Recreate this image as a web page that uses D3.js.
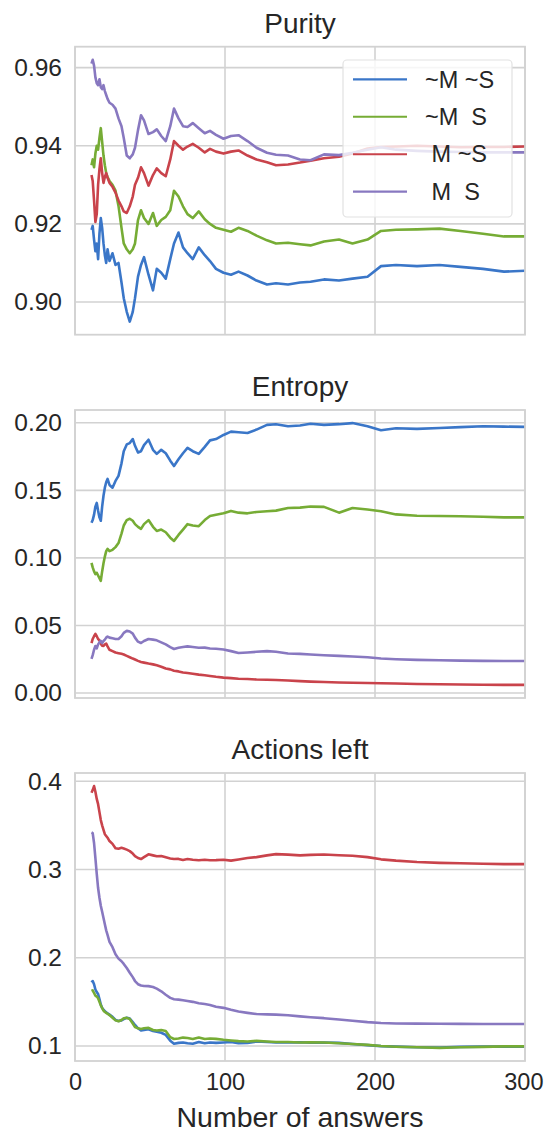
<!DOCTYPE html>
<html>
<head>
<meta charset="utf-8">
<script src="https://cdn.jsdelivr.net/npm/d3@7"></script>
<style>
  html, body { margin: 0; padding: 0; background: #fff; }
  svg { display: block; font-family: "Liberation Sans", Arial, Helvetica, sans-serif; }
  .leg text { white-space: pre; }
</style>
</head>
<body>
<svg id="chart" width="544" height="1133"></svg>
<script>
// Number of answers at which the running metrics were sampled
const answers = [11, 11.8, 12.7, 13.6, 14.5, 15.4, 16.3, 17.2, 18.1, 19, 19.9, 20.8, 21.7,
  23, 25, 27, 29, 31, 32.5, 34.5, 36.5, 38.5, 40, 42, 44, 46,
  49, 52, 54.5, 57.5, 60.5, 63.5, 66, 69, 72, 75,
  78.5, 82.5, 86.5, 90, 94,
  99, 104, 109, 115, 121, 128, 134, 142, 150, 157, 166, 176, 185, 195, 204, 214, 228, 243, 257, 272, 286, 300];

const seriesNames = ["~M ~S", "~M  S", " M ~S", " M  S"];
const seriesColors = ["#3a76c8", "#76ac35", "#c9434b", "#8878c0"];

// Purity
const purityNMNS = [0.9185, 0.9195, 0.9160, 0.9130, 0.9150, 0.9110, 0.9175, 0.9215, 0.9190, 0.9150, 0.9120, 0.9100, 0.9135,
  0.9105, 0.9125, 0.9095, 0.9100, 0.9050, 0.9010, 0.8975, 0.8950, 0.8975, 0.9010, 0.9065, 0.9095, 0.9115,
  0.9070, 0.9030, 0.9085, 0.9075, 0.9060, 0.9110, 0.9150, 0.9178, 0.9140, 0.9125,
  0.9110, 0.9140, 0.9120, 0.9105, 0.9085,
  0.9075, 0.9070, 0.9078, 0.9068, 0.9055, 0.9045, 0.9048, 0.9045, 0.9050, 0.9052, 0.9058, 0.9055, 0.9060, 0.9065, 0.9092, 0.9095, 0.9092, 0.9095, 0.9090, 0.9085, 0.9078, 0.9080];
const purityNMS = [0.9350, 0.9365, 0.9345, 0.9380, 0.9400, 0.9390, 0.9420, 0.9445, 0.9410, 0.9375, 0.9350, 0.9330, 0.9320,
  0.9310, 0.9300, 0.9285, 0.9246, 0.9190, 0.9150, 0.9135, 0.9125, 0.9135, 0.9150, 0.9210, 0.9235, 0.9215,
  0.9200, 0.9228, 0.9195, 0.9210, 0.9218, 0.9235, 0.9285, 0.9270, 0.9245, 0.9225,
  0.9215, 0.9232, 0.9212, 0.9200, 0.9190,
  0.9185, 0.9180, 0.9190, 0.9182, 0.9170, 0.9158, 0.9150, 0.9152, 0.9148, 0.9145, 0.9155, 0.9160, 0.9150, 0.9160, 0.9182, 0.9185, 0.9186, 0.9188, 0.9182, 0.9175, 0.9168, 0.9168];
const purityMNS = [0.9325, 0.9310, 0.9260, 0.9205, 0.9225, 0.9300, 0.9340, 0.9368, 0.9330, 0.9305, 0.9320, 0.9330, 0.9318,
  0.9305, 0.9295, 0.9280, 0.9260, 0.9245, 0.9232, 0.9228, 0.9245, 0.9270, 0.9300, 0.9318, 0.9345, 0.9330,
  0.9298, 0.9325, 0.9342, 0.9330, 0.9322, 0.9365, 0.9412, 0.9400, 0.9390, 0.9398,
  0.9405, 0.9395, 0.9383, 0.9392, 0.9385,
  0.9380, 0.9385, 0.9388, 0.9375, 0.9365, 0.9358, 0.9350, 0.9352, 0.9357, 0.9362, 0.9368, 0.9372, 0.9380, 0.9393, 0.9397, 0.9398, 0.9400, 0.9398, 0.9396, 0.9397, 0.9397, 0.9398];
const purityMS = [0.9610, 0.9620, 0.9605, 0.9575, 0.9560, 0.9555, 0.9570, 0.9550, 0.9545, 0.9555, 0.9540, 0.9530, 0.9520,
  0.9510, 0.9505, 0.9495, 0.9470, 0.9450, 0.9420, 0.9375, 0.9368, 0.9378, 0.9395, 0.9440, 0.9478, 0.9465,
  0.9430, 0.9435, 0.9442, 0.9425, 0.9412, 0.9450, 0.9495, 0.9470, 0.9450, 0.9448,
  0.9458, 0.9445, 0.9432, 0.9438, 0.9428,
  0.9418, 0.9425, 0.9427, 0.9412, 0.9395, 0.9382, 0.9377, 0.9375, 0.9365, 0.9363, 0.9378, 0.9376, 0.9382, 0.9390, 0.9396, 0.9390, 0.9387, 0.9385, 0.9384, 0.9383, 0.9383, 0.9383];

// Entropy
const entropyNMNS = [0.1260, 0.1280, 0.1320, 0.1380, 0.1407, 0.1350, 0.1300, 0.1275, 0.1380, 0.1460, 0.1520, 0.1560, 0.1585,
  0.1540, 0.1520, 0.1570, 0.1607, 0.1700, 0.1790, 0.1840, 0.1850, 0.1880, 0.1830, 0.1780, 0.1790, 0.1835,
  0.1875, 0.1800, 0.1770, 0.1800, 0.1775, 0.1720, 0.1680, 0.1730, 0.1775, 0.1815,
  0.1790, 0.1770, 0.1822, 0.1870, 0.1880,
  0.1910, 0.1935, 0.1930, 0.1925, 0.1950, 0.1985, 0.1990, 0.1975, 0.1980, 0.1993, 0.1985, 0.1990, 0.1998, 0.1975, 0.1945, 0.1960, 0.1955, 0.1962, 0.1968, 0.1975, 0.1972, 0.1970];
const entropyNMS = [0.0963, 0.0930, 0.0900, 0.0880, 0.0890, 0.0870, 0.0850, 0.0830, 0.0900, 0.0960, 0.1010, 0.1050, 0.1067,
  0.1050, 0.1060, 0.1080, 0.1110, 0.1180, 0.1240, 0.1280, 0.1290, 0.1275, 0.1250, 0.1230, 0.1215, 0.1250,
  0.1280, 0.1230, 0.1200, 0.1210, 0.1190, 0.1150, 0.1126, 0.1170, 0.1210, 0.1250,
  0.1240, 0.1235, 0.1280, 0.1310, 0.1320,
  0.1330, 0.1348, 0.1335, 0.1330, 0.1340, 0.1345, 0.1350, 0.1370, 0.1372, 0.1380, 0.1378, 0.1335, 0.1370, 0.1358, 0.1345, 0.1322, 0.1312, 0.1310, 0.1308, 0.1305, 0.1300, 0.1300];
const entropyMNS = [0.0370, 0.0400, 0.0420, 0.0437, 0.0420, 0.0400, 0.0390, 0.0365, 0.0350, 0.0348, 0.0360, 0.0365, 0.0345,
  0.0320, 0.0310, 0.0300, 0.0295, 0.0290, 0.0285, 0.0275, 0.0265, 0.0255, 0.0248, 0.0238, 0.0230, 0.0225,
  0.0218, 0.0212, 0.0205, 0.0195, 0.0182, 0.0175, 0.0165, 0.0160, 0.0152, 0.0148,
  0.0142, 0.0136, 0.0132, 0.0126, 0.0120,
  0.0114, 0.0110, 0.0106, 0.0104, 0.0100, 0.0098, 0.0096, 0.0093, 0.0088, 0.0084, 0.0081, 0.0078, 0.0076, 0.0074, 0.0072, 0.0070, 0.0067, 0.0065, 0.0063, 0.0061, 0.0060, 0.0060];
const entropyMS = [0.0252, 0.0280, 0.0320, 0.0348, 0.0330, 0.0360, 0.0375, 0.0385, 0.0370, 0.0385, 0.0395, 0.0410, 0.0418,
  0.0410, 0.0405, 0.0400, 0.0400, 0.0420, 0.0445, 0.0460, 0.0455, 0.0440, 0.0410, 0.0380, 0.0370, 0.0385,
  0.0400, 0.0395, 0.0390, 0.0375, 0.0360, 0.0340, 0.0326, 0.0335, 0.0340, 0.0345,
  0.0340, 0.0335, 0.0336, 0.0330, 0.0328,
  0.0322, 0.0310, 0.0296, 0.0300, 0.0305, 0.0310, 0.0305, 0.0292, 0.0290, 0.0285, 0.0280, 0.0275, 0.0270, 0.0265, 0.0255, 0.0250, 0.0245, 0.0242, 0.0240, 0.0238, 0.0237, 0.0237];

// Actions left
const actionsNMNS = [0.1720, 0.1736, 0.1700, 0.1640, 0.1610, 0.1589, 0.1530, 0.1470, 0.1430, 0.1410, 0.1395, 0.1380, 0.1370,
  0.1355, 0.1330, 0.1295, 0.1283, 0.1290, 0.1305, 0.1320, 0.1310, 0.1270, 0.1238, 0.1200, 0.1175, 0.1180,
  0.1190, 0.1170, 0.1160, 0.1150, 0.1125, 0.1060, 0.1025, 0.1035, 0.1040, 0.1030,
  0.1025, 0.1045, 0.1030, 0.1040, 0.1035,
  0.1040, 0.1045, 0.1030, 0.1035, 0.1050, 0.1045, 0.1040, 0.1040, 0.1042, 0.1038, 0.1040, 0.1035, 0.1023, 0.1010, 0.0998, 0.0992, 0.0985, 0.0982, 0.0990, 0.0992, 0.0993, 0.0993];
const actionsNMS = [0.1623, 0.1630, 0.1600, 0.1570, 0.1560, 0.1540, 0.1500, 0.1460, 0.1430, 0.1400, 0.1385, 0.1375, 0.1365,
  0.1350, 0.1320, 0.1290, 0.1280, 0.1295, 0.1315, 0.1318, 0.1305, 0.1255, 0.1215, 0.1200, 0.1193, 0.1200,
  0.1205, 0.1181, 0.1175, 0.1180, 0.1170, 0.1100, 0.1079, 0.1085, 0.1095, 0.1091,
  0.1080, 0.1095, 0.1079, 0.1085, 0.1080,
  0.1070, 0.1062, 0.1055, 0.1050, 0.1058, 0.1050, 0.1045, 0.1045, 0.1040, 0.1042, 0.1040, 0.1030, 0.1023, 0.1012, 0.1000, 0.0992, 0.0985, 0.0978, 0.0985, 0.0990, 0.0995, 0.0995];
const actionsMNS = [0.3870, 0.3900, 0.3945, 0.3880, 0.3800, 0.3740, 0.3650, 0.3560, 0.3500, 0.3450, 0.3400, 0.3380, 0.3360,
  0.3322, 0.3290, 0.3240, 0.3235, 0.3245, 0.3238, 0.3225, 0.3208, 0.3180, 0.3152, 0.3130, 0.3118, 0.3140,
  0.3172, 0.3160, 0.3150, 0.3152, 0.3138, 0.3125, 0.3118, 0.3120, 0.3108, 0.3118,
  0.3110, 0.3105, 0.3110, 0.3105, 0.3106,
  0.3110, 0.3100, 0.3114, 0.3130, 0.3140, 0.3160, 0.3174, 0.3168, 0.3160, 0.3165, 0.3170, 0.3162, 0.3155, 0.3140, 0.3115, 0.3100, 0.3085, 0.3075, 0.3070, 0.3065, 0.3061, 0.3061];
const actionsMS = [0.3420, 0.3412, 0.3300, 0.3130, 0.2950, 0.2790, 0.2680, 0.2590, 0.2520, 0.2450, 0.2380, 0.2310, 0.2260,
  0.2180, 0.2120, 0.2040, 0.1990, 0.1960, 0.1930, 0.1883, 0.1830, 0.1780, 0.1736, 0.1700, 0.1685, 0.1680,
  0.1678, 0.1668, 0.1650, 0.1620, 0.1580, 0.1545, 0.1530, 0.1525, 0.1518, 0.1510,
  0.1500, 0.1485, 0.1475, 0.1465, 0.1445,
  0.1432, 0.1410, 0.1390, 0.1375, 0.1362, 0.1358, 0.1355, 0.1348, 0.1335, 0.1325, 0.1315, 0.1300, 0.1285, 0.1270, 0.1260, 0.1255, 0.1253, 0.1251, 0.1250, 0.1249, 0.1249, 0.1249];

// Tick labels
const xTicks = [0, 100, 200, 300];
const purityTicks = [0.90, 0.92, 0.94, 0.96];
const entropyTicks = [0.00, 0.05, 0.10, 0.15, 0.20];
const actionsTicks = [0.1, 0.2, 0.3, 0.4];

const panels = [
  { title: "Purity", series: [purityNMNS, purityNMS, purityMNS, purityMS], ticks: purityTicks, fmt: ".2f", top: 46.7, legend: true },
  { title: "Entropy", series: [entropyNMNS, entropyNMS, entropyMNS, entropyMS], ticks: entropyTicks, fmt: ".2f", top: 410 },
  { title: "Actions left", series: [actionsNMNS, actionsNMS, actionsMNS, actionsMS], ticks: actionsTicks, fmt: ".1f", top: 773, xAxis: true }
];

const plotLeft = 75, plotRight = 525, plotH = 288;
const textColor = "#262626", gridColor = "#d2d2d2";
const svg = d3.select("#chart");

const x = d3.scaleLinear().domain([0, 300]).range([plotLeft, plotRight]);

panels.forEach(p => {
  const top = p.top, bottom = top + plotH;
  const all = p.series.flat();
  const [lo, hi] = d3.extent(all);
  const pad = (hi - lo) * 0.05;
  const y = d3.scaleLinear().domain([lo - pad, hi + pad]).range([bottom, top]);

  const g = svg.append("g");

  // grid
  g.append("g").selectAll("line").data(p.ticks).join("line")
    .attr("x1", plotLeft).attr("x2", plotRight)
    .attr("y1", d => y(d)).attr("y2", d => y(d))
    .attr("stroke", gridColor).attr("stroke-width", 1.6);
  g.append("g").selectAll("line").data(xTicks).join("line")
    .attr("x1", d => x(d)).attr("x2", d => x(d))
    .attr("y1", top).attr("y2", bottom)
    .attr("stroke", gridColor).attr("stroke-width", 1.6);

  // y axis labels
  const yAxis = d3.axisLeft(y).tickValues(p.ticks).tickFormat(d3.format(p.fmt)).tickSize(0).tickPadding(13);
  const ya = g.append("g").attr("transform", `translate(${plotLeft},0)`).call(yAxis);
  ya.select(".domain").remove();
  ya.selectAll("text").attr("fill", textColor).attr("font-size", 24.5)
    .attr("font-family", '"Liberation Sans", Arial, sans-serif');

  // lines
  const line = d3.line().x((d, i) => x(answers[i])).y(d => y(d));
  p.series.forEach((s, k) => {
    g.append("path").datum(s).attr("d", line)
      .attr("fill", "none").attr("stroke", seriesColors[k])
      .attr("stroke-width", 2.6).attr("stroke-linejoin", "round");
  });

  // frame
  g.append("rect").attr("x", plotLeft).attr("y", top)
    .attr("width", plotRight - plotLeft).attr("height", plotH)
    .attr("fill", "none").attr("stroke", gridColor).attr("stroke-width", 1.8);

  // title
  g.append("text").attr("x", (plotLeft + plotRight) / 2).attr("y", top - 14)
    .attr("text-anchor", "middle").attr("fill", textColor).attr("font-size", 28)
    .text(p.title);

  if (p.xAxis) {
    const xAxis = d3.axisBottom(x).tickValues(xTicks).tickFormat(d3.format("d")).tickSize(0).tickPadding(12);
    const xa = g.append("g").attr("transform", `translate(0,${bottom})`).call(xAxis);
    xa.select(".domain").remove();
    xa.selectAll("text").attr("fill", textColor).attr("font-size", 23.5)
      .attr("font-family", '"Liberation Sans", Arial, sans-serif');
    // keep the last label inside the page edge
    xa.selectAll(".tick").filter(d => d === 300).select("text")
      .attr("text-anchor", "end").attr("x", 543 - x(300));
    g.append("text").attr("x", (plotLeft + plotRight) / 2).attr("y", 1127)
      .attr("text-anchor", "middle").attr("fill", textColor).attr("font-size", 28.5)
      .text("Number of answers");
  }

  if (p.legend) {
    const lg = g.append("g").attr("class", "leg");
    lg.append("rect").attr("x", 343).attr("y", 60).attr("width", 169).attr("height", 157)
      .attr("rx", 4).attr("fill", "#fff").attr("fill-opacity", 0.8)
      .attr("stroke", "#e2e2e2").attr("stroke-width", 1.2);
    const rowY = d3.scaleLinear().domain([0, 3]).range([79.3, 191.7]);
    seriesNames.forEach((name, k) => {
      lg.append("line").attr("x1", 353).attr("x2", 407)
        .attr("y1", rowY(k)).attr("y2", rowY(k))
        .attr("stroke", seriesColors[k]).attr("stroke-width", 2.2);
      lg.append("text").attr("x", 425).attr("y", rowY(k)).attr("dy", "0.35em")
        .attr("fill", textColor).attr("font-size", 23.5).text(name);
    });
  }
});
</script>
</body>
</html>
